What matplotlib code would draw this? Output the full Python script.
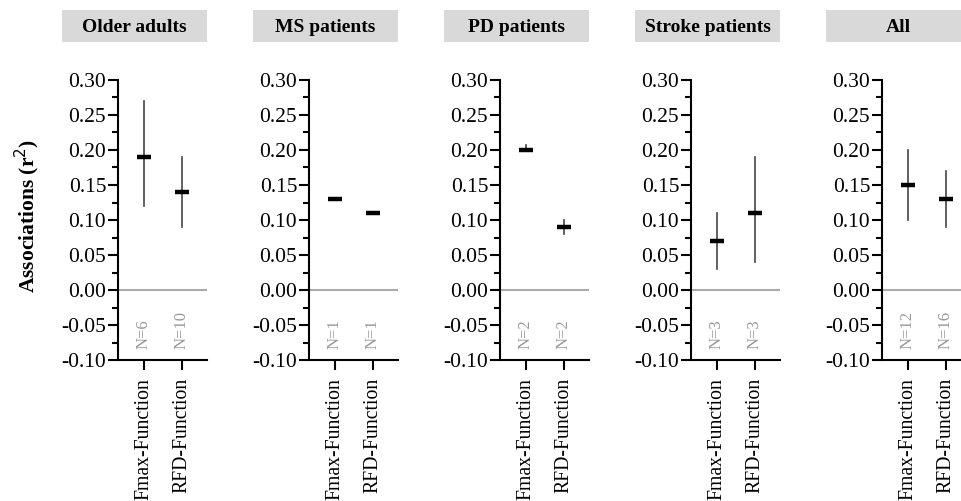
import matplotlib
matplotlib.use("Agg")
import matplotlib.pyplot as plt
from matplotlib.patches import Rectangle
from matplotlib.ticker import MultipleLocator, FormatStrFormatter

plt.rcParams['font.family'] = ['Liberation Serif', 'DejaVu Serif']

groups = ["Older adults", "MS patients", "PD patients", "Stroke patients", "All"]
categories = ["Fmax-Function", "RFD-Function"]
means = [[0.19, 0.14], [0.13, 0.11], [0.20, 0.09], [0.07, 0.11], [0.15, 0.13]]
lows = [[0.12, 0.09], [0.13, 0.11], [0.20, 0.08], [0.03, 0.04], [0.10, 0.09]]
highs = [[0.27, 0.19], [0.13, 0.11], [0.207, 0.10], [0.11, 0.19], [0.20, 0.17]]
ns = [["N=6", "N=10"], ["N=1", "N=1"], ["N=2", "N=2"], ["N=3", "N=3"], ["N=12", "N=16"]]

W, H = 962, 501
fig = plt.figure(figsize=(W / 100, H / 100), dpi=100)

spine0 = 118
step = 191
ax_w = 89
y_top = 80
y_bot = 360

for i, g in enumerate(groups):
    left = spine0 + i * step
    ax = fig.add_axes([left / W, 1 - y_bot / H, ax_w / W, (y_bot - y_top) / H])
    xs = [1, 2]
    for j in range(2):
        m, lo, hi = means[i][j], lows[i][j], highs[i][j]
        if hi > lo:
            ax.plot([xs[j], xs[j]], [lo, hi], color='#444444', lw=1.2, zorder=2)
        ax.plot([xs[j]], [m], marker='_', ms=9.5, mew=3.2, color='black', zorder=3)
        ax.text(xs[j], -0.084, ns[i][j], rotation=90, ha='center', va='bottom',
                color='#999999', fontsize=12)
    ax.axhline(0, color='#aaaaaa', lw=1.5, zorder=1)
    ax.set_xlim(1 - 26 / 38, 2 + 25 / 38)
    ax.set_ylim(-0.10, 0.30)
    ax.set_xticks(xs)
    ax.set_xticklabels(categories, rotation=90, fontsize=14.2, va='top')
    ax.yaxis.set_major_locator(MultipleLocator(0.05))
    ax.yaxis.set_minor_locator(MultipleLocator(0.025))
    ax.yaxis.set_major_formatter(FormatStrFormatter('%.2f'))
    ax.tick_params(axis='y', which='major', length=7, width=1.5, labelsize=15.5, pad=1.5)
    ax.tick_params(axis='y', which='minor', length=4, width=1.5)
    ax.tick_params(axis='x', length=7, width=1.5, pad=6)
    for s in ['top', 'right']:
        ax.spines[s].set_visible(False)
    for s in ['left', 'bottom']:
        ax.spines[s].set_linewidth(1.5)
    # title box
    bx = 62 + i * step
    fig.patches.append(Rectangle((bx / W, 1 - 42 / H), 145 / W, 32 / H,
                                 transform=fig.transFigure, facecolor='#d9d9d9',
                                 edgecolor='none'))
    fig.text((bx + 72.5) / W, 1 - 32 / H, g, ha='center', va='baseline',
             fontsize=14, fontweight='bold')

fig.text(27 / W, 1 - 216 / H, r"Associations (r$^{2}$)", rotation=90, ha='center',
         va='center', fontsize=15.5, fontweight='bold')

fig.savefig("out.png", dpi=100)
